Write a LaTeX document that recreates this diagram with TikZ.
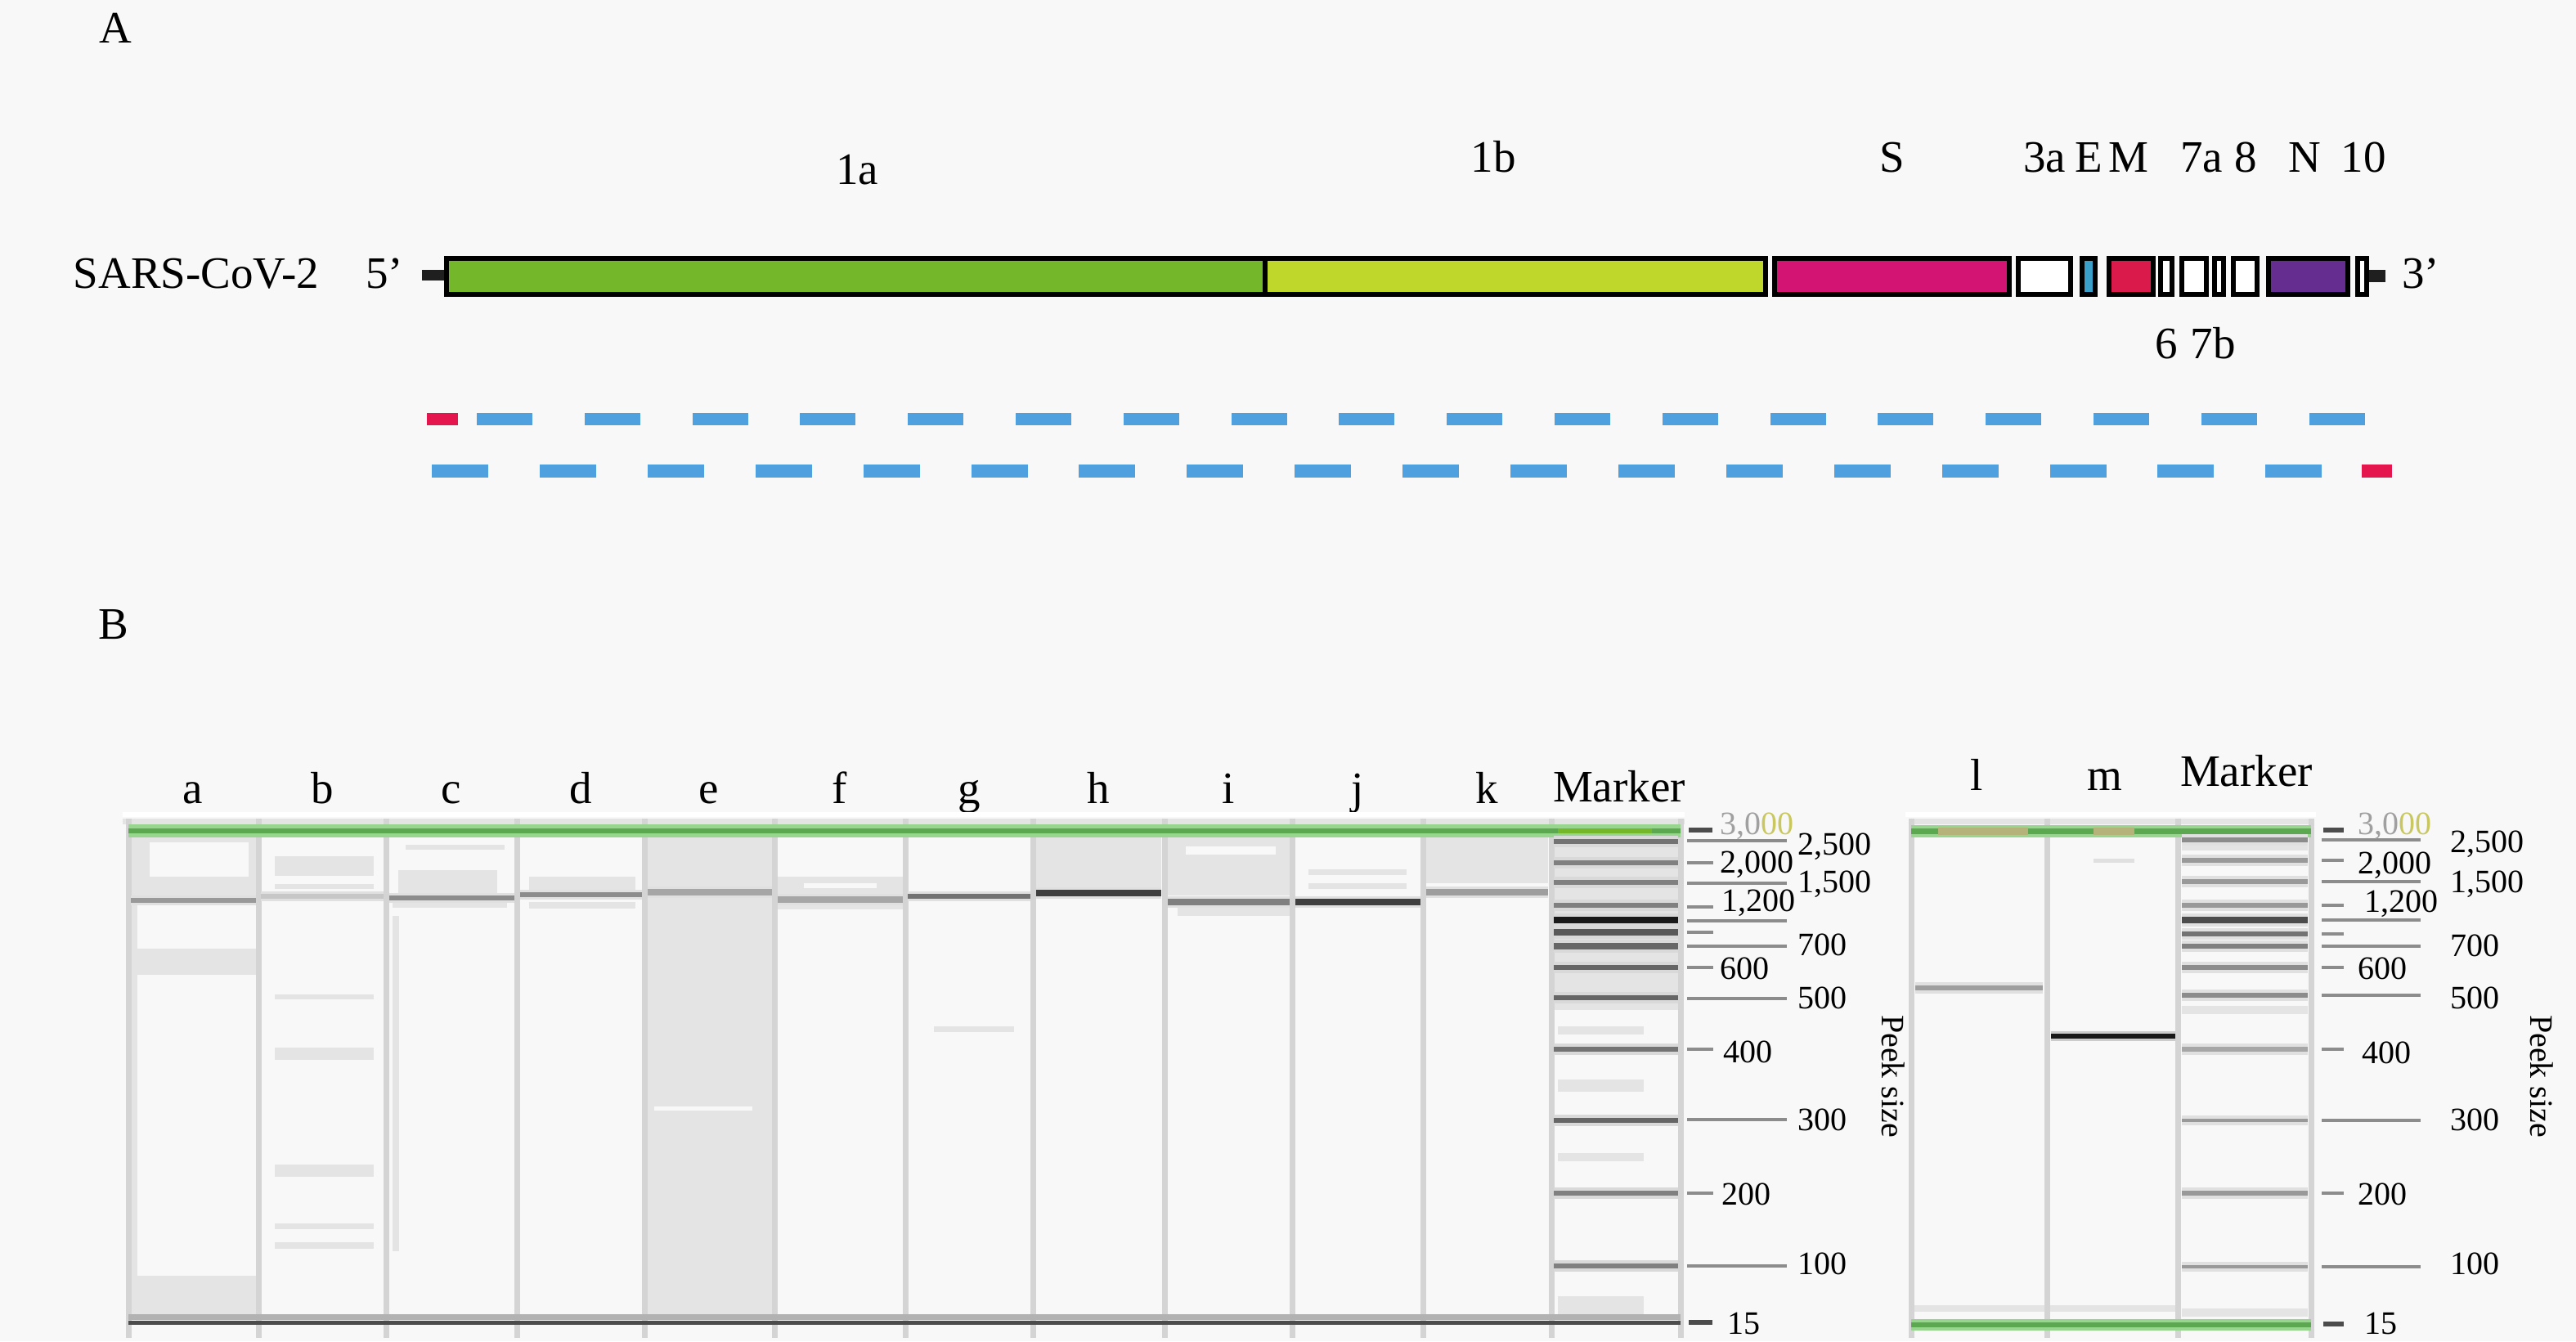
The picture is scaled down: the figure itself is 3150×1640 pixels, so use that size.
\documentclass[tikz,border=0pt]{standalone}
\usepackage{fontspec}
\setmainfont{Liberation Serif}
\definecolor{bg}{HTML}{F8F8F8}
\definecolor{gA}{HTML}{74B72A}
\definecolor{gB}{HTML}{BFD72B}
\definecolor{sMag}{HTML}{D41473}
\definecolor{eBlue}{HTML}{3AA0C9}
\definecolor{mRed}{HTML}{D91A4A}
\definecolor{nPur}{HTML}{662D91}
\definecolor{dashBlue}{HTML}{4FA0DE}
\definecolor{dashRed}{HTML}{E5154E}
\definecolor{laneGray}{HTML}{E4E4E4}
\definecolor{sepGray}{HTML}{D4D4D4}
\definecolor{gelGreen}{HTML}{98D690}
\definecolor{gelGreenD}{HTML}{5BA850}
\definecolor{khaki}{HTML}{C9C760}
\definecolor{khakiBand}{HTML}{B5B27A}
\definecolor{tickGray}{HTML}{8C8C8C}
\definecolor{numGray}{HTML}{A0A0A0}
\begin{document}
\begin{tikzpicture}[x=0.5pt,y=-0.5pt,
  lbl/.style={font=\fontsize{27.5}{30}\selectfont, inner sep=0pt, anchor=base},
  num/.style={font=\fontsize{20}{22}\selectfont, inner sep=0pt, anchor=base west},
  peek/.style={font=\fontsize{20}{22}\selectfont, inner sep=0pt, rotate=-90, anchor=center},
  gene/.style={draw=black, line width=3pt},
  sep/.style={draw=sepGray, line width=3.5pt},
  longtick/.style={draw=tickGray, line width=2pt},
  shorttick/.style={draw=tickGray, line width=2pt},
  boldtick/.style={draw=black!70, line width=3pt}
]
\useasboundingbox (0,0) rectangle (3150,1640);
\fill[bg] (0,0) rectangle (3150,1640);

% ---------------- Panel A ----------------
\node[lbl] (labA) at (141,52) {A};
\node[lbl] (sars) at (240,352) {SARS-CoV-2};
\node[lbl] (five) at (470,352) {5’};
\node[lbl] (three) at (2960,352) {3’};

% stubs
\fill[black!88] (516,330) rectangle (546,343);
\fill[black!88] (2894,330) rectangle (2917,345);

% gene boxes
\draw[gene, fill=gA] (546,316) rectangle (1547,360);
\draw[gene, fill=gB] (1547,316) rectangle (2159,360);
\draw[gene, fill=sMag] (2170,316) rectangle (2457,360);
\draw[gene, fill=white] (2468,316) rectangle (2532,360);
\draw[gene, fill=eBlue] (2546,316) rectangle (2562,360);
\draw[gene, fill=mRed] (2579,316) rectangle (2633,360);
\draw[gene, fill=white] (2642,316) rectangle (2656,360);
\draw[gene, fill=white] (2668,316) rectangle (2698,360);
\draw[gene, fill=white] (2708,316) rectangle (2719,360);
\draw[gene, fill=white] (2731,316) rectangle (2760,360);
\draw[gene, fill=nPur] (2774,316) rectangle (2871,360);
\draw[gene, fill=white] (2883,316) rectangle (2894,360);

% gene labels
\node[lbl] (l1a) at (1048,225) {1a};
\node[lbl] (l1b) at (1826,210) {1b};
\node[lbl] (lS) at (2314,210) {S};
\node[lbl] (l3a) at (2500,210) {3a};
\node[lbl] (lE) at (2554,210) {E};
\node[lbl] (lM) at (2603,210) {M};
\node[lbl] (l7a) at (2692,210) {7a};
\node[lbl] (l8) at (2746,210) {8};
\node[lbl] (lN) at (2818,210) {N};
\node[lbl] (l10) at (2890,210) {10};
\node[lbl] (l6) at (2649,438) {6};
\node[lbl] (l7b) at (2706,438) {7b};

% amplicon dashes
\fill[dashRed] (522,505) rectangle (560,520);
\foreach \k in {0,...,17} {
  \fill[dashBlue] ({583+131.8*\k},505) rectangle ({651+131.8*\k},520);
  \fill[dashBlue] ({528+131.9*\k},568) rectangle ({597+131.9*\k},584);
}
\fill[dashRed] (2888,568) rectangle (2925,584);

% ---------------- Panel B ----------------
\node[lbl] (labB) at (139,781) {B};

% lane labels left
\node[lbl] (la) at (236,982) {a};
\node[lbl] (lb) at (394,982) {b};
\node[lbl] (lc) at (552,982) {c};
\node[lbl] (ld) at (710,982) {d};
\node[lbl] (le) at (867,982) {e};
\node[lbl] (lf) at (1027,982) {f};
\node[lbl] (lg) at (1185,982) {g};
\node[lbl] (lh) at (1343,982) {h};
\node[lbl] (li) at (1502,982) {i};
\node[lbl] (lj) at (1660,982) {j};
\node[lbl] (lk) at (1818,982) {k};
\node[lbl] (lmk1) at (1980,980) {Marker};
% lane labels right
\node[lbl] (ll) at (2417,966) {l};
\node[lbl] (lm) at (2574,966) {m};
\node[lbl] (lmk2) at (2747,961) {Marker};

% ----- left gel -----
\fill[white] (150,993) rectangle (2060,999);
\fill[laneGray] (150,1001) rectangle (2060,1008);
% lane textures
\fill[laneGray] (160,1024) rectangle (313,1098);
\fill[bg] (183,1030) rectangle (304,1072);
\fill[laneGray] (160,1024) rectangle (168,1607);
\fill[laneGray] (168,1160) rectangle (313,1192);
\fill[laneGray] (160,1560) rectangle (313,1607);
\fill[laneGray] (336,1047) rectangle (457,1071);
\fill[laneGray] (336,1081) rectangle (457,1087);
\fill[laneGray] (336,1216) rectangle (457,1222);
\fill[laneGray] (336,1281) rectangle (457,1296);
\fill[laneGray] (336,1424) rectangle (457,1439);
\fill[laneGray] (336,1496) rectangle (457,1503);
\fill[laneGray] (336,1519) rectangle (457,1527);
\fill[laneGray] (496,1033) rectangle (617,1039);
\fill[laneGray] (487,1064) rectangle (608,1094);
\fill[laneGray] (480,1103) rectangle (620,1110);
\fill[laneGray] (480,1120) rectangle (488,1530);
\fill[laneGray] (647,1072) rectangle (777,1090);
\fill[laneGray] (647,1103) rectangle (777,1111);
\fill[laneGray] (792,1024) rectangle (944,1607);
\fill[bg] (800,1353) rectangle (920,1358);
\fill[laneGray] (951,1072) rectangle (1104,1093);
\fill[bg] (983,1080) rectangle (1072,1086);
\fill[laneGray] (951,1104) rectangle (1104,1112);
\fill[laneGray] (1142,1255) rectangle (1240,1262);
\fill[laneGray] (1267,1024) rectangle (1420,1086);
\fill[laneGray] (1428,1024) rectangle (1577,1095);
\fill[bg] (1450,1035) rectangle (1560,1045);
\fill[laneGray] (1440,1110) rectangle (1577,1120);
\fill[laneGray] (1600,1063) rectangle (1720,1070);
\fill[laneGray] (1600,1080) rectangle (1720,1087);
\fill[laneGray] (1744,1024) rectangle (1893,1080);
\fill[laneGray] (1900,1024) rectangle (2052,1235);
\fill[laneGray] (1905,1255) rectangle (2010,1265);
\fill[laneGray] (1905,1320) rectangle (2010,1335);
\fill[laneGray] (1905,1410) rectangle (2010,1420);
\fill[laneGray] (1905,1585) rectangle (2010,1607);

% separators
\foreach \x in {157,316,472,632,788,947,1107,1263,1424,1580,1740,1897,2055}
  \draw[sep] (\x,1001) -- (\x,1636);

% top green line
\fill[gelGreen] (157,1008) rectangle (2055,1024);
\fill[gelGreenD] (157,1013) rectangle (2055,1019);
\fill[gA] (1905,1013) rectangle (2020,1019);

% sample bands (halo + core)
\foreach \xa/\xb/\y/\d/\w in {160/313/1101/40/3, 319/469/1096/22/3, 476/629/1098/45/3, 636/785/1094/45/3, 792/944/1091/35/4, 951/1104/1100/35/4, 1110/1260/1096/55/3, 1267/1420/1092/75/4, 1428/1577/1103/50/4, 1584/1737/1103/75/4, 1744/1893/1091/38/4} {
  \fill[black!12] (\xa,{\y-\w-3}) rectangle (\xb,{\y+\w+3});
  \fill[black!\d] (\xa,{\y-\w}) rectangle (\xb,{\y+\w});
}

% marker bands left
\foreach \y/\d/\w in {1029/55/3,1055/50/3,1079/50/3,1107/50/3,1125/90/4,1140/65/4,1157/60/4,1183/60/3,1220/60/3,1283/55/3,1370/60/3,1459/50/3,1548/50/3} {
  \fill[black!15] (1900,{\y-\w-4}) rectangle (2052,{\y+\w+4});
  \fill[black!\d] (1900,{\y-\w}) rectangle (2052,{\y+\w});
}

% bottom lines
\fill[black!30] (157,1607) rectangle (2055,1614);
\fill[black!70] (157,1615) rectangle (2055,1620);

% ticks left
\draw[boldtick] (2065,1015) -- (2094,1015);
\draw[boldtick] (2065,1617) -- (2094,1617);
\foreach \y in {1055,1109,1140,1183,1283,1459}
  \draw[shorttick] (2063,\y) -- (2095,\y);
\foreach \y in {1028,1080,1126,1157,1221,1369,1548}
  \draw[longtick] (2063,\y) -- (2185,\y);

% numbers left
\node[num] (n3000a) at (2103,1020) {\textcolor{numGray}{3,0}\textcolor{khaki}{00}};
\node[num] (n2500a) at (2198,1045) {2,500};
\node[num] (n2000a) at (2103,1067) {2,000};
\node[num] (n1500a) at (2198,1091) {1,500};
\node[num] (n1200a) at (2105,1114) {1,200};
\node[num] (n700a) at (2198,1168) {700};
\node[num] (n600a) at (2103,1197) {600};
\node[num] (n500a) at (2198,1233) {500};
\node[num] (n400a) at (2107,1299) {400};
\node[num] (n300a) at (2198,1382) {300};
\node[num] (n200a) at (2105,1473) {200};
\node[num] (n100a) at (2198,1558) {100};
\node[num] (n15a) at (2112,1631) {15};
\node[peek] (peek1) at (2315,1316) {Peek size};

% ----- right gel -----
\fill[white] (2330,993) rectangle (2832,999);
\fill[laneGray] (2335,1001) rectangle (2828,1008);
\fill[laneGray] (2668,1030) rectangle (2822,1040);
\fill[laneGray] (2668,1230) rectangle (2822,1240);
\fill[laneGray] (2668,1600) rectangle (2822,1610);
\fill[laneGray] (2340,1596) rectangle (2660,1604);
\foreach \x in {2337,2503,2663,2826}
  \draw[sep] (\x,1001) -- (\x,1636);
\fill[gelGreen] (2337,1009) rectangle (2826,1024);
\fill[gelGreenD] (2337,1013) rectangle (2826,1020);
\fill[khakiBand] (2370,1012) rectangle (2480,1021);
\fill[khakiBand] (2560,1012) rectangle (2610,1021);
\fill[gelGreen] (2337,1613) rectangle (2826,1627);
\fill[gelGreenD] (2337,1617) rectangle (2826,1623);
\fill[black!12] (2560,1050) rectangle (2610,1055);
\fill[black!12] (2342,1201) rectangle (2498,1215);
\fill[black!38] (2342,1205) rectangle (2498,1211);
\fill[black!20] (2508,1261) rectangle (2660,1273);
\fill[black!90] (2508,1264) rectangle (2660,1270);
\foreach \y/\d/\w in {1027/45/3,1052/40/3,1078/40/3,1107/40/3,1125/70/4,1142/55/3,1157/50/3,1183/45/3,1217/45/3,1283/35/3,1370/40/2,1459/40/3,1549/40/2} {
  \fill[black!12] (2668,{\y-\w-4}) rectangle (2822,{\y+\w+4});
  \fill[black!\d] (2668,{\y-\w}) rectangle (2822,{\y+\w});
}

% ticks right
\draw[boldtick] (2841,1015) -- (2866,1015);
\draw[boldtick] (2841,1619) -- (2866,1619);
\foreach \y in {1052,1107,1142,1183,1283,1459}
  \draw[shorttick] (2839,\y) -- (2866,\y);
\foreach \y in {1027,1078,1125,1157,1217,1370,1549}
  \draw[longtick] (2839,\y) -- (2960,\y);

% numbers right
\node[num] (n3000b) at (2883,1020) {\textcolor{numGray}{3,0}\textcolor{khaki}{00}};
\node[num] (n2500b) at (2996,1042) {2,500};
\node[num] (n2000b) at (2883,1068) {2,000};
\node[num] (n1500b) at (2996,1091) {1,500};
\node[num] (n1200b) at (2891,1115) {1,200};
\node[num] (n700b) at (2996,1169) {700};
\node[num] (n600b) at (2883,1197) {600};
\node[num] (n500b) at (2996,1233) {500};
\node[num] (n400b) at (2888,1300) {400};
\node[num] (n300b) at (2996,1382) {300};
\node[num] (n200b) at (2883,1473) {200};
\node[num] (n100b) at (2996,1558) {100};
\node[num] (n15b) at (2891,1631) {15};
\node[peek] (peek2) at (3108,1316) {Peek size};
\end{tikzpicture}
\end{document}
